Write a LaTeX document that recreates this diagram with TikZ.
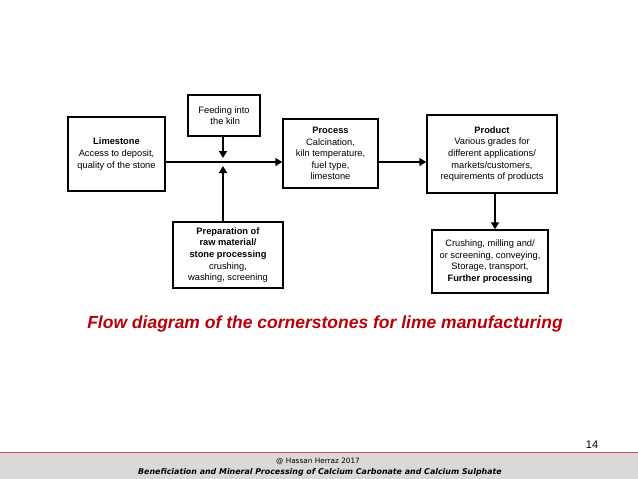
\documentclass[tikz,border=0pt]{standalone}
\usepackage{fontspec}
\setmainfont{Liberation Sans}
\newfontfamily\footfont{DejaVu Sans}
\usepackage{tikz}
\usepackage{xcolor}
\usetikzlibrary{arrows.meta,positioning,calc}
\definecolor{TitleRed}{RGB}{185,0,10}
\definecolor{FootRed}{RGB}{192,80,77}
\definecolor{FootGray}{RGB}{217,217,217}

\begin{document}
\begin{tikzpicture}[x=1pt,y=-1pt,
    box/.style={draw, line width=1.5pt, align=center, inner sep=2pt,
      font=\fontsize{9.3}{11.6}\selectfont},
    flow/.style={line width=2.8pt, -{Triangle[length=7pt,width=8pt]}}]
  \useasboundingbox (0,0) rectangle (638,479);
  % footer band
  \fill[FootGray] (0,452) rectangle (638,479);
  \draw[FootRed, line width=0.8pt] (0,452) -- (638,452);

  % boxes
  \node[box, minimum width=97pt, minimum height=74pt] (lime) at (116.5,154)
    {\textbf{Limestone}\\Access to deposit,\\quality of the stone};
  \node[box, minimum width=72pt, minimum height=41pt, align=left] (feed) at (224,115.5)
    {Feeding into\\\hspace{1.3em}the kiln};
  \node[box, minimum width=95pt, minimum height=69pt] (proc) at (330.5,153.5)
    {\textbf{Process}\\Calcination,\\kiln temperature,\\fuel type,\\limestone};
  \node[box, minimum width=130pt, minimum height=78pt] (prod) at (492,154)
    {\textbf{Product}\\Various grades for\\different applications/\\markets/customers,\\requirements of products};
  \node[box, minimum width=110pt, minimum height=66pt] (prep) at (228,255)
    {\textbf{Preparation of}\\\textbf{raw material/}\\\textbf{stone processing}\\crushing,\\washing, screening};
  \node[box, minimum width=116pt, minimum height=63pt] (crush) at (490,261.5)
    {Crushing, milling and/\\or screening, conveying,\\Storage, transport,\\\textbf{Further processing}};

  % junction points
  \coordinate (j) at (223,162);
  \coordinate (jtop) at (223,158);
  \coordinate (jbot) at (223,166);
  \coordinate (pc) at (495,0);

  % connectors
  \draw[flow] (lime.east |- j) -- (proc.west |- j);
  \draw[flow] (feed.south -| j) -- (jtop);
  \draw[flow] (prep.north -| j) -- (jbot);
  \draw[flow] (proc.east |- j) -- (prod.west |- j);
  \draw[flow] (prod.south -| pc) -- (crush.north -| pc);

  % caption and footer
  \node[font=\fontsize{17.5}{19}\selectfont\bfseries\itshape, text=TitleRed] (title) at (325,324)
    {Flow diagram of the cornerstones for lime manufacturing};
  \node[font=\fontsize{11}{12}\selectfont] (page) at (592,445) {14};
  \node[font=\footfont\fontsize{7.3}{8}\selectfont] (author) at (318,461.5) {@ Hassan Herraz 2017};
  \node[font=\footfont\fontsize{7.9}{9}\selectfont\bfseries\itshape] (course) at (320,472)
    {Beneficiation and Mineral Processing of Calcium Carbonate and Calcium Sulphate};
\end{tikzpicture}
\end{document}
